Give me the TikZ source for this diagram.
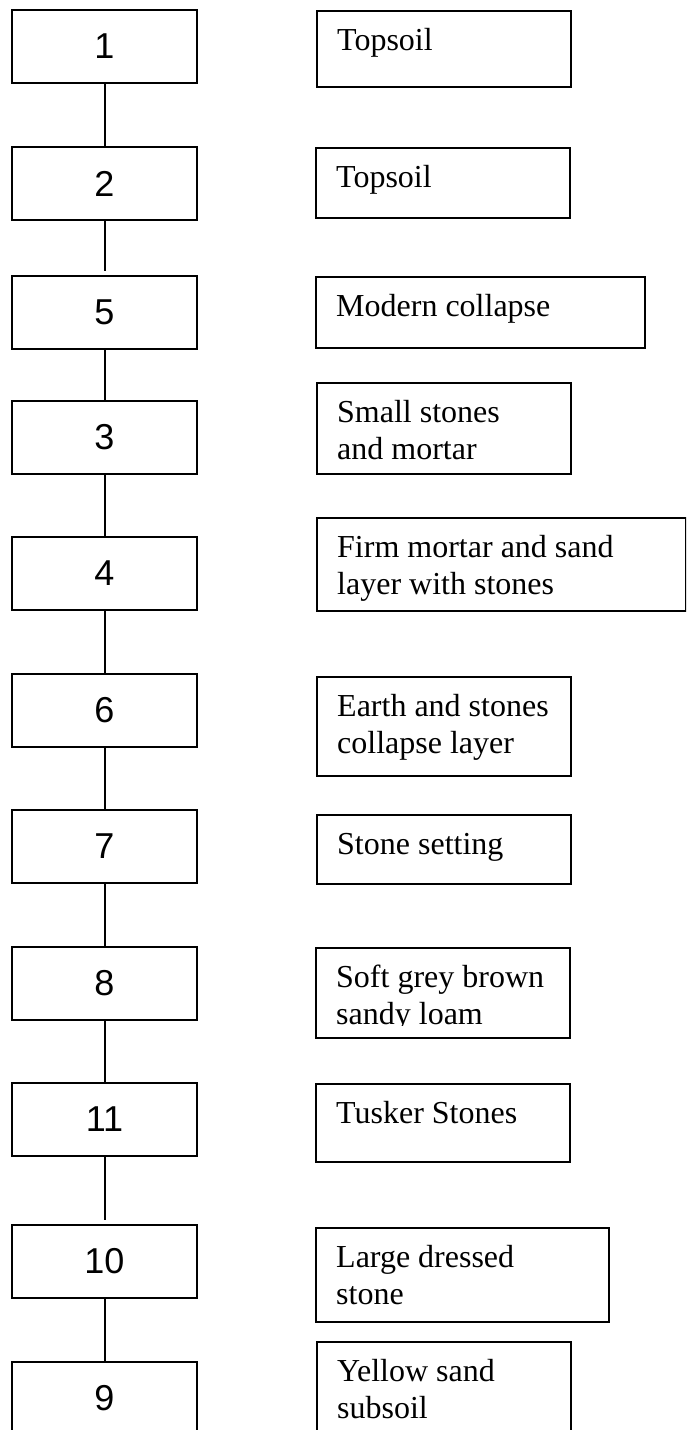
\documentclass[tikz,border=0pt]{standalone}
\usepackage{fontspec}
\setmainfont{Liberation Serif}
\newfontfamily\numfont{Liberation Sans}
\usetikzlibrary{positioning}

\tikzset{
  ctx/.style={draw, line width=2pt, minimum width=185pt, minimum height=73pt, inner sep=0pt,
    font=\numfont\fontsize{36}{40}\selectfont},
  descbox/.style={draw, line width=2pt, anchor=north west, inner sep=0pt},
  desctext/.style={inner sep=0pt, align=left, font=\fontsize{32}{37}\selectfont,
    below right=14pt and 21pt of #1.north west},
  conn/.style={line width=2pt},
}

\begin{document}
\begin{tikzpicture}[x=1pt, y=-1pt]
    \useasboundingbox (0,0) rectangle (686,1430);
    \clip (0,0) rectangle (686,1430);

    % Konteksty (lewa kolumna)
    \node[ctx] (c1) at (104.5,46.5) {1};
    \node[ctx] (c2) at (104.5,183.5) {2};
    \node[ctx] (c5) at (104.5,312.5) {5};
    \node[ctx] (c3) at (104.5,437.5) {3};
    \node[ctx] (c4) at (104.5,573.5) {4};
    \node[ctx] (c6) at (104.5,710.5) {6};
    \node[ctx] (c7) at (104.5,846.5) {7};
    \node[ctx] (c8) at (104.5,983.5) {8};
    \node[ctx] (c11) at (104.5,1119.5) {11};
    \node[ctx] (c10) at (104.5,1261.5) {10};
    \node[ctx] (c9) at (104.5,1398.5) {9};

    % Opisy warstw (prawa kolumna)
    \node[descbox, minimum width=254pt, minimum height=76pt] (d1) at (316,10) {};
    \node[descbox, minimum width=254pt, minimum height=70pt] (d2) at (315,147) {};
    \node[descbox, minimum width=329pt, minimum height=71pt] (d5) at (315,276) {};
    \node[descbox, minimum width=254pt, minimum height=91pt] (d3) at (316,382) {};
    \node[descbox, minimum width=369pt, minimum height=93pt] (d4) at (316,517) {};
    \node[descbox, minimum width=254pt, minimum height=99pt] (d6) at (316,676) {};
    \node[descbox, minimum width=254pt, minimum height=69pt] (d7) at (316,814) {};
    \node[descbox, minimum width=254pt, minimum height=90pt] (d8) at (315,947) {};
    \node[descbox, minimum width=254pt, minimum height=78pt] (d11) at (315,1083) {};
    \node[descbox, minimum width=293pt, minimum height=94pt] (d10) at (315,1227) {};
    \node[descbox, minimum width=254pt, minimum height=100pt] (d9) at (316,1341) {};

    % Teksty opisow
    \node[desctext=d1] (t1) {\strut Topsoil};
    \node[desctext=d2] (t2) {\strut Topsoil};
    \node[desctext=d5] (t5) {\strut Modern collapse};
    \node[desctext=d3] (t3) {\strut Small stones\\and mortar};
    \node[desctext=d4] (t4) {\strut Firm mortar and sand\\layer with stones};
    \node[desctext=d6] (t6) {\strut Earth and stones\\collapse layer};
    \node[desctext=d7] (t7) {\strut Stone setting};
    \begin{scope}
        \clip (315,947) rectangle (569,1025);
        \node[desctext=d8] (t8) {\strut Soft grey brown\\sandy loam};
    \end{scope}
    \node[desctext=d11] (t11) {\strut Tusker Stones};
    \node[desctext=d10] (t10) {\strut Large dressed\\stone};
    \node[desctext=d9] (t9) {\strut Yellow sand\\subsoil};

    \draw[conn] (c1) -- (c2);
    \draw[conn, shorten >=4pt] (c2) -- (c5);
    \draw[conn] (c5) -- (c3);
    \draw[conn] (c3) -- (c4);
    \draw[conn] (c4) -- (c6);
    \draw[conn] (c6) -- (c7);
    \draw[conn] (c7) -- (c8);
    \draw[conn] (c8) -- (c11);
    \draw[conn, shorten >=4pt] (c11) -- (c10);
    \draw[conn] (c10) -- (c9);
\end{tikzpicture}
\end{document}
